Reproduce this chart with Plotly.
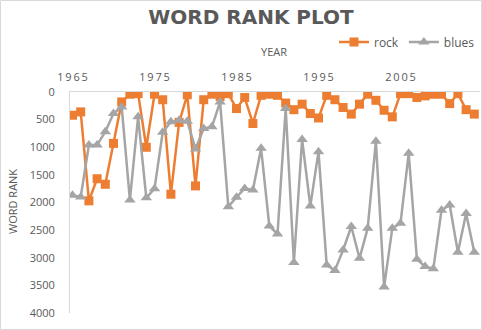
import plotly.graph_objects as go

years = list(range(1965, 2015))
rock = [420, 360, 1970, 1570, 1670, 930, 180, 40, 30, 1000,
        40, 140, 1850, 550, 50, 1700, 140, 40, 80, 30,
        300, 100, 570, 60, 40, 60, 200, 320, 220, 390,
        470, 60, 140, 280, 400, 220, 40, 150, 330, 450,
        30, 30, 100, 70, 40, 40, 210, 30, 320, 400]
blues = [1870, 1900, 960, 960, 720, 390, 270, 1955, 450, 1915,
         1750, 730, 540, 510, 530, 1030, 660, 630, 180, 2075,
         1905, 1745, 1775, 1020, 2425, 2570, 300, 3085, 860, 2065,
         1080, 3130, 3230, 2860, 2435, 3010, 2465, 890, 3530, 2465,
         2375, 1110, 3025, 3160, 3200, 2140, 2045, 2900, 2200, 2900]
x_ticks = [1965, 1975, 1985, 1995, 2005]
y_ticks = [0, 500, 1000, 1500, 2000, 2500, 3000, 3500, 4000]

ORANGE = "#ED7D31"
GRAY = "#A5A5A5"
TXT = "#595959"
FONT = "Open Sans"

fig = go.Figure()
fig.add_trace(go.Scatter(x=years, y=rock, name="rock", mode="lines+markers",
                         line=dict(color=ORANGE, width=2.5),
                         marker=dict(symbol="square", size=9, color=ORANGE)))
fig.add_trace(go.Scatter(x=years, y=blues, name="blues", mode="lines+markers",
                         line=dict(color=GRAY, width=2.5),
                         marker=dict(symbol="triangle-up", size=10, color=GRAY)))

W, H = 482, 330
L, R, T, B = 70, 2, 92, 17
pw, ph = W - L - R, H - T - B

fig.update_layout(
    width=W, height=H,
    margin=dict(l=L, r=R, t=T, b=B, autoexpand=False),
    paper_bgcolor="white", plot_bgcolor="white",
    font=dict(family=FONT, color=TXT, size=11),
    title=dict(text="<b>WORD RANK PLOT</b>", font=dict(size=20, color=TXT, family="DejaVu Sans"),
               x=251 / W, xref="container", xanchor="center",
               y=1 - 17 / H, yref="container", yanchor="middle"),
    showlegend=True,
    legend=dict(orientation="h", x=1.0, xanchor="right", y=(H - B - 42) / ph, yanchor="middle",
                font=dict(size=12, color=TXT), bgcolor="rgba(0,0,0,0)",
                itemwidth=30, tracegroupgap=0),
    xaxis=dict(range=[1965 - 2.5 / 8.2, 1965 + (480 - 72.5) / 8.2],
               side="top", tickvals=x_ticks,
               ticktext=["\u2009".join(str(v)) for v in x_ticks],
               showgrid=False, zeroline=False, showline=True, linecolor="#D9D9D9", linewidth=1,
               ticks="", tickfont=dict(size=11, color=TXT), ticklabelstandoff=6),
    yaxis=dict(range=[4000, 0], tickvals=y_ticks, showgrid=False, zeroline=False,
               showline=True, linecolor="#D9D9D9", linewidth=1, ticks="",
               tickfont=dict(size=11, color=TXT), ticklabelstandoff=12),
    annotations=[
        dict(text="YEAR", xref="paper", yref="paper", x=(274 - L) / pw, y=(H - B - 52) / ph,
             showarrow=False, font=dict(size=11, color=TXT), xanchor="center", yanchor="middle"),
        dict(text="WORD RANK", xref="paper", yref="paper", x=(12 - L) / pw, y=(H - B - 202) / ph,
             showarrow=False, textangle=-90, font=dict(size=11, color=TXT),
             xanchor="center", yanchor="middle"),
    ],
    shapes=[dict(type="rect", xref="paper", yref="paper",
                 x0=(0.5 - L) / pw, x1=(W - 0.5 - L) / pw,
                 y0=-(B - 0.5) / ph, y1=1 + (T - 0.5) / ph,
                 line=dict(color="#D9D9D9", width=1), fillcolor="rgba(0,0,0,0)", layer="below")],
)

fig.write_html("out.html", config={"displayModeBar": False},
               post_script="document.body.style.margin='0';document.body.style.overflow='hidden';")
